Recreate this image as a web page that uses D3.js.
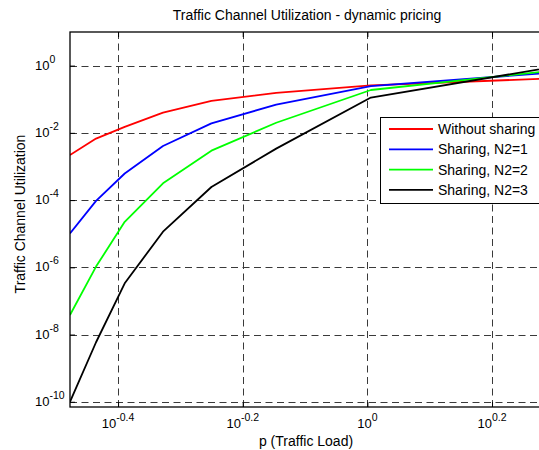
<!DOCTYPE html>
<html><head><meta charset="utf-8">
<script src="https://cdn.jsdelivr.net/npm/d3@7"></script>
<style>
html,body{margin:0;padding:0;background:#fff;overflow:hidden}
text{font-family:"Liberation Sans",Arial,sans-serif;fill:#000}
</style></head>
<body><svg id="chart" width="539" height="450"></svg>
<script>
// ---- data ----
const pValues = [0.3333, 0.367, 0.408, 0.47, 0.562, 0.714, 1.013, 2.0];
const withoutSharing = [2.19e-3, 6.76e-3, 1.51e-2, 3.98e-2, 8.91e-2, 0.155, 0.26, 0.42];
const sharingN1 = [1.02e-5, 9.5e-5, 6.17e-4, 4.07e-3, 1.91e-2, 6.92e-2, 0.245, 0.63];
const sharingN2 = [3.8e-8, 1.05e-6, 2.26e-5, 3.16e-4, 2.95e-3, 2.0e-2, 0.188, 0.72];
const sharingN3 = [1.0e-10, 5.9e-9, 3.35e-7, 1.15e-5, 2.45e-4, 3.39e-3, 0.112, 0.93];
const seriesNames = ["Without sharing", "Sharing, N2=1", "Sharing, N2=2", "Sharing, N2=3"];
const seriesColors = ["#ff0000", "#0000ff", "#00ff00", "#000000"];
const xTickExps = ["-0.4", "-0.2", "0", "0.2"];
const yTickExps = ["0", "-2", "-4", "-6", "-8", "-10"];
const xDomain = [1/3, 2];
const yDomain = [7e-11, 10];

const allSeries = [withoutSharing, sharingN1, sharingN2, sharingN3];

const L = 70, T = 32, R = 555, B = 407;
const svg = d3.select("#chart");
const x = d3.scaleLog().domain(xDomain).range([L, R]);
const y = d3.scaleLog().domain(yDomain).range([B, T]);

svg.append("defs").append("clipPath").attr("id","clip")
  .append("rect").attr("x",L).attr("y",T).attr("width",R-L).attr("height",B-T);

svg.append("rect").attr("x",L).attr("y",T).attr("width",R-L).attr("height",B-T).attr("fill","#fff");

const xTicks = xTickExps.map(e => Math.pow(10, +e));
const yTicks = yTickExps.map(e => Math.pow(10, +e));

// grid
const grid = svg.append("g").attr("stroke","#3a3a3a").attr("stroke-width",1).attr("stroke-dasharray","7,4.5").attr("fill","none");
xTicks.forEach(v => grid.append("line").attr("x1",Math.round(x(v))+0.5).attr("x2",Math.round(x(v))+0.5).attr("y1",T).attr("y2",B));
yTicks.forEach(v => grid.append("line").attr("x1",L).attr("x2",R).attr("y1",Math.round(y(v))+0.5).attr("y2",Math.round(y(v))+0.5));

// axes with inward ticks
const axB = d3.axisBottom(x).tickValues(xTicks).tickSize(-5).tickFormat("");
const axT = d3.axisTop(x).tickValues(xTicks).tickSize(-5).tickFormat("");
const axL = d3.axisLeft(y).tickValues(yTicks).tickSize(-5).tickFormat("");
const axR = d3.axisRight(y).tickValues(yTicks).tickSize(-5).tickFormat("");
[[axB,`translate(0,${B})`],[axT,`translate(0,${T})`],[axL,`translate(${L},0)`],[axR,`translate(${R},0)`]].forEach(([a,t])=>{
  const g = svg.append("g").attr("transform",t).call(a);
  g.select(".domain").remove();
  g.selectAll("line").attr("stroke","#000");
});

// lines
const line = d3.line().x((d,i)=>x(pValues[i])).y(d=>y(d));
const lg = svg.append("g").attr("clip-path","url(#clip)");
allSeries.forEach((s,i)=>{
  lg.append("path").datum(s).attr("d",line).attr("fill","none")
    .attr("stroke",seriesColors[i]).attr("stroke-width",1.8).attr("stroke-linejoin","round");
});

// box
svg.append("rect").attr("x",L).attr("y",T).attr("width",R-L).attr("height",B-T)
  .attr("fill","none").attr("stroke","#000").attr("stroke-width",1.3);

// tick labels
xTicks.forEach((v,i)=>{
  const t = svg.append("text").attr("x",x(v)).attr("y",428).attr("text-anchor","middle").attr("font-size",13);
  t.append("tspan").text("10");
  t.append("tspan").attr("dy",-7).attr("font-size",10.5).text(xTickExps[i]);
});
yTicks.forEach((v,i)=>{
  const t = svg.append("text").attr("x",35).attr("y",y(v)+4).attr("text-anchor","start").attr("font-size",13);
  t.append("tspan").text("10");
  t.append("tspan").attr("dy",-7).attr("font-size",10.5).text(yTickExps[i]);
});

// title and labels
svg.append("text").attr("x",307).attr("y",20).attr("text-anchor","middle").attr("font-size",14)
  .text("Traffic Channel Utilization - dynamic pricing");
svg.append("text").attr("x",306).attr("y",446).attr("text-anchor","middle").attr("font-size",14)
  .text("p (Traffic Load)");
svg.append("text").attr("transform",`translate(25,214) rotate(-90)`).attr("text-anchor","middle").attr("font-size",14)
  .text("Traffic Channel Utilization");

// legend
const lgd = svg.append("g");
lgd.append("rect").attr("x",380.5).attr("y",117.5).attr("width",170).attr("height",86)
  .attr("fill","#fff").attr("stroke","#000").attr("stroke-width",1);
seriesNames.forEach((n,i)=>{
  const yy = 129 + i*20.3;
  lgd.append("line").attr("x1",389).attr("x2",433).attr("y1",yy).attr("y2",yy)
    .attr("stroke",seriesColors[i]).attr("stroke-width",1.8);
  lgd.append("text").attr("x",438).attr("y",yy+5).attr("font-size",14).text(n);
});
</script></body></html>
